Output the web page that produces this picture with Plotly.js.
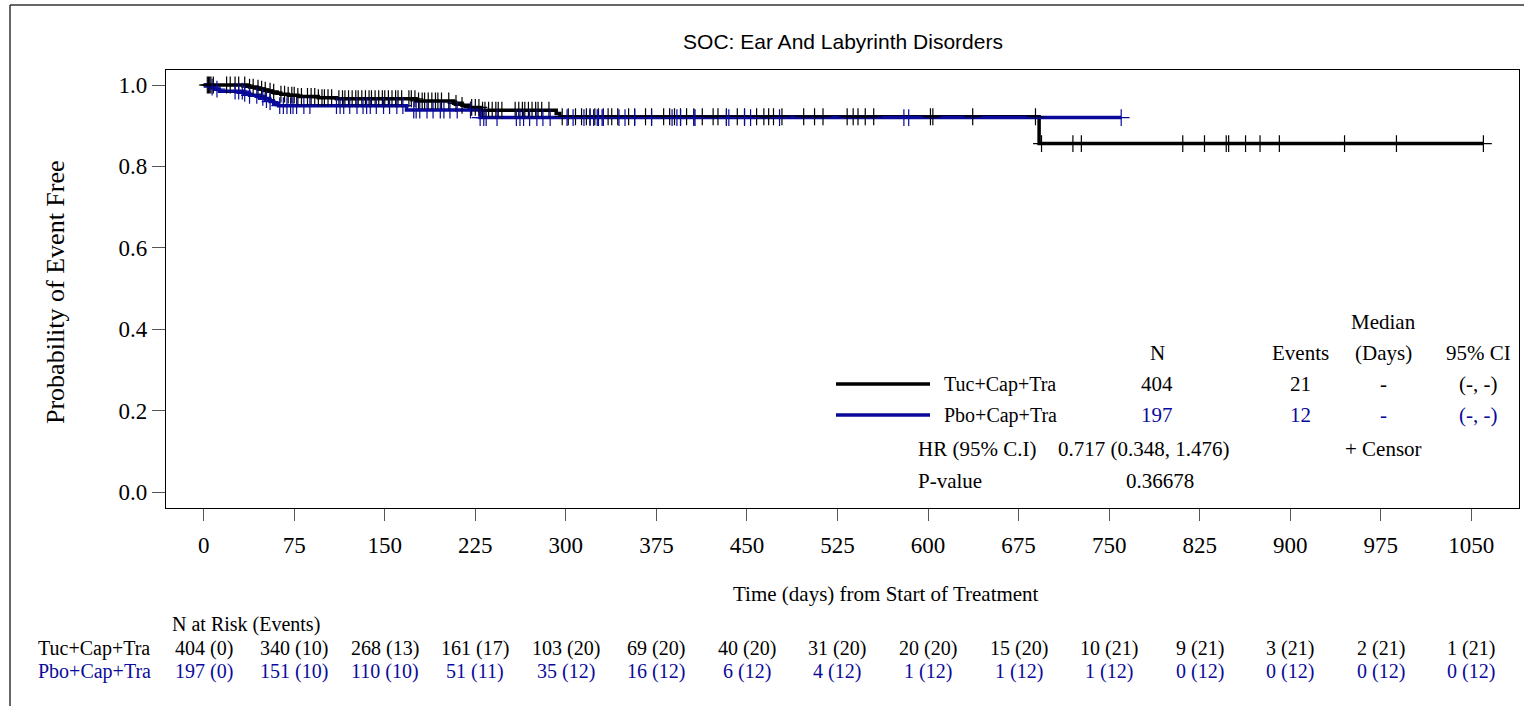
<!DOCTYPE html>
<html>
<head>
<meta charset="utf-8">
<script src="https://cdn.plot.ly/plotly-3.0.1.min.js"></script>
<style>
html,body{margin:0;padding:0;background:#fff;}
#chart{width:1524px;height:706px;}
</style>
</head>
<body>
<div id="chart"></div>
<script>
// ---------------- DATA ----------------
const chartTitle = 'SOC: Ear And Labyrinth Disorders';
const xTitle = 'Time (days) from Start of Treatment';
const yTitle = 'Probability of Event Free';
const armNames = ['Tuc+Cap+Tra', 'Pbo+Cap+Tra'];

const timeTicks = [0, 75, 150, 225, 300, 375, 450, 525, 600, 675, 750, 825, 900, 975, 1050];
const yTicks = [0, 0.2, 0.4, 0.6, 0.8, 1.0];
const yTickText = ['0.0', '0.2', '0.4', '0.6', '0.8', '1.0'];

// Kaplan-Meier step points (time, survival)
const tucTime = [0, 36, 38, 44, 47, 50, 53, 57, 61, 64, 70, 78, 95, 110, 176, 207, 214, 220, 229, 292, 295, 692, 1060];
const tucSurv = [1, 0.9975, 0.995, 0.9925, 0.99, 0.9875, 0.985, 0.9825, 0.98, 0.9775, 0.975, 0.9718, 0.969, 0.9662, 0.961, 0.955, 0.950, 0.945, 0.938, 0.930, 0.922, 0.856, 0.856];
const pboTime = [0, 5, 9, 13, 33, 38, 46, 51, 55, 58, 62, 168, 229, 760];
const pboSurv = [1, 0.9949, 0.9898, 0.9848, 0.9797, 0.9746, 0.9695, 0.9644, 0.9594, 0.9543, 0.9492, 0.9386, 0.920, 0.920];

// censoring times
const tucCensor = [3, 4, 5, 6, 8, 19, 22, 26, 29, 34, 38, 41, 45, 48, 51, 55, 58, 64, 67, 70, 73, 75, 78, 81, 86, 89, 92, 95, 98, 100,
  103, 106, 112, 115, 117, 120, 123, 126, 128, 131, 134, 137, 139, 142, 145, 148, 150, 153, 156, 159, 161, 164, 170, 172, 175, 178,
  181, 183, 186, 189, 192, 194, 197, 203, 209, 214, 222, 225, 228, 231, 233, 236, 239, 242, 244, 247, 258, 261, 264, 266, 269, 272,
  275, 277, 280, 286, 297, 302, 308, 313, 317, 320, 324, 327, 331, 335, 338, 343, 352, 357, 366, 371, 381, 386, 390, 395, 400, 406,
  413, 422, 426, 433, 442, 448, 458, 464, 468, 472, 479, 497, 506, 513, 533, 538, 542, 548, 555, 602, 604, 637, 689, 694, 720, 727,
  811, 829, 847, 849, 863, 875, 891, 945, 988, 1060];
const pboCensor = [7, 11, 26, 29, 32, 34, 38, 44, 49, 52, 55, 63, 66, 69, 72, 74, 77, 83, 88, 110, 113, 116, 121, 127, 132, 135, 138,
  143, 149, 154, 160, 165, 174, 176, 179, 185, 190, 196, 199, 204, 210, 221, 229, 232, 234, 243, 259, 262, 265, 270, 276, 281, 287,
  301, 306, 315, 320, 323, 326, 327, 330, 331, 344, 349, 357, 371, 388, 392, 395, 406, 407, 433, 435, 448, 453, 477, 580, 584, 760];

// Number at risk (events)
const tucRisk = [404, 340, 268, 161, 103, 69, 40, 31, 20, 15, 10, 9, 3, 2, 1];
const tucEvents = [0, 10, 13, 17, 20, 20, 20, 20, 20, 20, 21, 21, 21, 21, 21];
const pboRisk = [197, 151, 110, 51, 35, 16, 6, 4, 1, 1, 1, 0, 0, 0, 0];
const pboEvents = [0, 10, 10, 11, 12, 12, 12, 12, 12, 12, 12, 12, 12, 12, 12];

// Summary table
const summaryN = ['404', '197'];
const summaryEvents = ['21', '12'];
const summaryMedian = ['-', '-'];
const summaryCI = ['(-, -)', '(-, -)'];
const hrText = '0.717 (0.348, 1.476)';
const pValue = '0.36678';

// ---------------- STYLE ----------------
const W = 1524, H = 706;
const L = 166, R = 1519, T = 70, B = 508;
const BLACK = '#000000';
const BLUE = '#0a0a9a';
const SERIF = '"Liberation Serif", "Times New Roman", serif';
const colors = [BLACK, BLUE];

const px = v => (v - L) / (R - L);
const py = v => (B - v) / (B - T);

function survAt(times, surv, t) {
  let s = surv[0];
  for (let i = 0; i < times.length; i++) { if (times[i] <= t) s = surv[i]; else break; }
  return s;
}

const traces = [];
[[tucTime, tucSurv, tucCensor], [pboTime, pboSurv, pboCensor]].forEach((d, i) => {
  traces.push({
    x: d[0], y: d[1], type: 'scatter', mode: 'lines',
    line: {shape: 'hv', color: colors[i], width: 3.5},
    hoverinfo: 'skip', showlegend: false
  });
});
[[tucTime, tucSurv, tucCensor], [pboTime, pboSurv, pboCensor]].forEach((d, i) => {
  traces.push({
    x: d[2], y: d[2].map(t => survAt(d[0], d[1], t)), type: 'scatter', mode: 'markers',
    marker: {symbol: 'cross-thin-open', size: 12, color: colors[i], line: {color: colors[i], width: 1.2}},
    hoverinfo: 'skip', showlegend: false
  });
});

const ann = [];
function txt(text, x, y, opt) {
  opt = opt || {};
  ann.push(Object.assign({
    text: text, x: x, y: y, xref: 'paper', yref: 'paper', showarrow: false,
    xanchor: 'center', yanchor: 'middle',
    font: {family: SERIF, size: 21, color: BLACK}
  }, opt));
}

// axis titles
txt(xTitle, px(886), py(594), {font: {family: SERIF, size: 21, color: BLACK}});
txt(yTitle, px(55), py(292), {textangle: -90, font: {family: SERIF, size: 26, color: BLACK}});

// summary table
const colN = 1157, colEv = 1300, colMed = 1383, colCI = 1478;
txt('Median', px(colMed), py(322));
txt('N', px(colN), py(353));
txt('Events', px(colEv), py(353));
txt('(Days)', px(colMed), py(353));
txt('95% CI', px(colCI), py(353));
const rowY = [384, 415];
armNames.forEach((nm, i) => {
  const c = {family: SERIF, size: 21, color: colors[i]};
  txt(nm, px(942), py(rowY[i]), {xanchor: 'left', font: {family: SERIF, size: 20, color: BLACK}});
  txt(summaryN[i], px(colN), py(rowY[i]), {font: c});
  txt(summaryEvents[i], px(colEv), py(rowY[i]), {font: c});
  txt(summaryMedian[i], px(colMed), py(rowY[i]), {font: c});
  txt(summaryCI[i], px(colCI), py(rowY[i]), {font: c});
});
txt('HR (95% C.I)', px(916), py(449), {xanchor: 'left'});
txt(hrText, px(1056), py(449), {xanchor: 'left'});
txt('+ Censor', px(colMed), py(449));
txt('P-value', px(916), py(481), {xanchor: 'left'});
txt(pValue, px(1160), py(481));

// risk table
const RF = 20;
txt('N at Risk (Events)', px(170), py(624), {xanchor: 'left', font: {family: SERIF, size: RF, color: BLACK}});
const riskY = [648, 672];
[[tucRisk, tucEvents], [pboRisk, pboEvents]].forEach((d, i) => {
  txt(armNames[i], px(36), py(riskY[i]), {xanchor: 'left', font: {family: SERIF, size: RF, color: colors[i]}});
  timeTicks.forEach((t, k) => {
    ann.push({
      text: d[0][k] + ' (' + d[1][k] + ')', x: t, xref: 'x', y: py(riskY[i]), yref: 'paper',
      showarrow: false, xanchor: 'center', yanchor: 'middle',
      font: {family: SERIF, size: RF, color: colors[i]}
    });
  });
});

const shapes = [
  // outer frame
  {type: 'line', xref: 'paper', yref: 'paper', x0: px(10), x1: px(1524), y0: py(5), y1: py(5), line: {color: '#333', width: 1.5}},
  {type: 'line', xref: 'paper', yref: 'paper', x0: px(10), x1: px(10), y0: py(5), y1: py(706), line: {color: '#333', width: 1.5}},
  // legend lines
  {type: 'line', xref: 'paper', yref: 'paper', x0: px(836), x1: px(930), y0: py(rowY[0]), y1: py(rowY[0]), line: {color: BLACK, width: 3.5}},
  {type: 'line', xref: 'paper', yref: 'paper', x0: px(836), x1: px(930), y0: py(rowY[1]), y1: py(rowY[1]), line: {color: BLUE, width: 3.5}}
];

const layout = {
  width: W, height: H,
  margin: {l: L, r: W - R, t: T, b: H - B, pad: 0},
  paper_bgcolor: '#fff', plot_bgcolor: '#fff',
  title: {text: chartTitle, x: px(843), xref: 'paper', xanchor: 'center', y: 1 - 42 / H, yref: 'container', yanchor: 'middle',
    font: {family: '"Liberation Sans", Arial, sans-serif', size: 21, color: BLACK}},
  xaxis: {
    range: [-31.2, 1089.5], tickvals: timeTicks, ticktext: timeTicks.map(String),
    ticks: 'outside', ticklen: 12, tickwidth: 1, tickcolor: '#555',
    showline: true, linecolor: BLACK, linewidth: 1.2, mirror: true,
    showgrid: false, zeroline: false, ticklabelstandoff: 4,
    tickfont: {family: SERIF, size: 23, color: BLACK}
  },
  yaxis: {
    range: [-0.0393, 1.0369], tickvals: yTicks, ticktext: yTickText,
    ticks: 'outside', ticklen: 13, tickwidth: 1, tickcolor: '#555',
    showline: true, linecolor: BLACK, linewidth: 1.2, mirror: true,
    showgrid: false, zeroline: false,
    tickfont: {family: SERIF, size: 23, color: BLACK}
  },
  annotations: ann, shapes: shapes, showlegend: false
};

Plotly.newPlot('chart', traces, layout, {displayModeBar: false, staticPlot: true});
</script>
</body>
</html>
